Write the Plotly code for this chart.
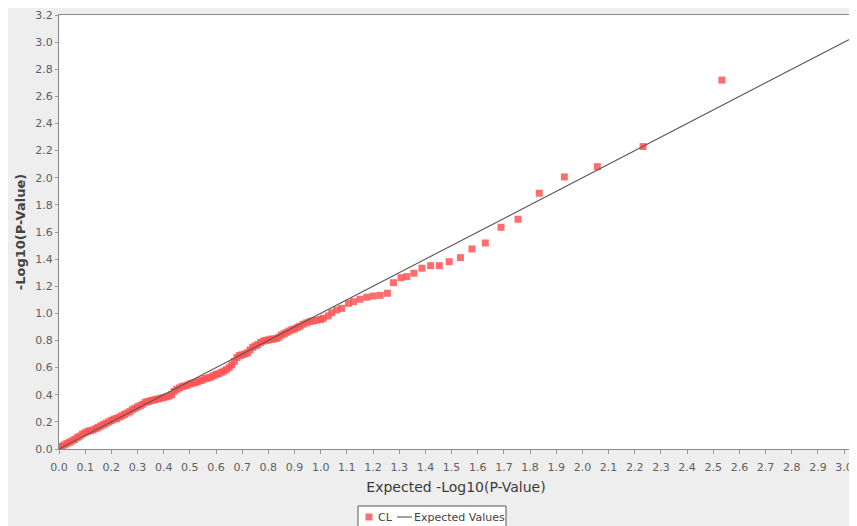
import plotly.graph_objects as go

expected_cl = [
    0.003, 0.01, 0.02, 0.03, 0.04, 0.05, 0.06, 0.07, 0.08, 0.09,
    0.10, 0.11, 0.12, 0.13, 0.14, 0.15, 0.16, 0.17, 0.18, 0.19,
    0.20, 0.21, 0.22, 0.23, 0.24, 0.25, 0.26, 0.27, 0.28, 0.29,
    0.30, 0.31, 0.32, 0.33, 0.34, 0.35, 0.36, 0.37, 0.38, 0.39,
    0.40, 0.41, 0.42, 0.43, 0.44, 0.45, 0.46, 0.47, 0.48, 0.49,
    0.50, 0.51, 0.52, 0.53, 0.54, 0.55, 0.56, 0.57, 0.58, 0.59,
    0.60, 0.61, 0.62, 0.63, 0.64, 0.65, 0.66, 0.67, 0.68, 0.69,
    0.70, 0.71, 0.72, 0.73, 0.74, 0.75, 0.76, 0.77, 0.78, 0.79,
    0.80, 0.81, 0.82, 0.83, 0.84, 0.85, 0.86, 0.87, 0.88, 0.89,
    0.90, 0.91, 0.92, 0.933, 0.946, 0.959, 0.972, 0.985, 1.000, 1.010,
    1.029, 1.042, 1.061, 1.080, 1.106, 1.125, 1.150, 1.176, 1.201, 1.227,
    1.255, 1.278, 1.307, 1.329, 1.356, 1.387, 1.420, 1.453, 1.491, 1.534,
    1.578, 1.629, 1.689, 1.754, 1.835, 1.931, 2.057, 2.232, 2.533,
]
observed_cl = [
    0.015, 0.02, 0.03, 0.04, 0.05, 0.06, 0.07, 0.085, 0.095, 0.11,
    0.12, 0.13, 0.135, 0.14, 0.15, 0.16, 0.17, 0.18, 0.19, 0.20,
    0.21, 0.22, 0.225, 0.235, 0.245, 0.255, 0.265, 0.275, 0.29, 0.30,
    0.31, 0.32, 0.33, 0.345, 0.35, 0.355, 0.36, 0.365, 0.37, 0.375,
    0.38, 0.385, 0.39, 0.40, 0.425, 0.44, 0.45, 0.46, 0.465, 0.47,
    0.48, 0.485, 0.49, 0.495, 0.505, 0.51, 0.52, 0.525, 0.53, 0.54,
    0.55, 0.555, 0.565, 0.575, 0.585, 0.60, 0.62, 0.645, 0.675, 0.69,
    0.695, 0.70, 0.71, 0.73, 0.75, 0.76, 0.77, 0.785, 0.795, 0.80,
    0.805, 0.81, 0.81, 0.815, 0.825, 0.84, 0.85, 0.86, 0.87, 0.88,
    0.885, 0.895, 0.905, 0.92, 0.93, 0.94, 0.945, 0.95, 0.955, 0.964,
    0.981, 1.005, 1.025, 1.037, 1.074, 1.086, 1.104, 1.119, 1.128, 1.133,
    1.148, 1.226, 1.263, 1.271, 1.296, 1.333, 1.352, 1.352, 1.381, 1.411,
    1.475, 1.519, 1.635, 1.694, 1.886, 2.006, 2.082, 2.230, 2.720,
]

# Expected-values reference line (y = x) endpoints
expected_line_x = [0.0, 3.034]
expected_line_y = [0.0, 3.034]

x_ticks = [round(i * 0.1, 1) for i in range(31)]
y_ticks = [round(i * 0.2, 1) for i in range(17)]

series_names = ["CL", "Expected Values"]
POINT_COLOR = "rgba(255,85,85,0.85)"
LINE_COLOR = "#555555"
FONT = "DejaVu Sans"

fig = go.Figure()
fig.add_trace(go.Scatter(
    x=expected_cl, y=observed_cl, mode="markers", name=series_names[0],
    marker=dict(symbol="square", size=7, color=POINT_COLOR, line=dict(width=0)),
    showlegend=False,
))
fig.add_trace(go.Scatter(
    x=expected_line_x, y=expected_line_y, mode="lines", name=series_names[1],
    line=dict(color=LINE_COLOR, width=1.1),
    showlegend=False,
))

# figure is placed by the page 8px from the top-left corner
W, H = 849, 518
L, R, T, B = 51, 845, 7, 441
pw, ph = R - L, B - T

def px_x(p):
    return (p - L) / pw

def px_y(p):
    return (B - p) / ph

# compact JFreeChart-style legend box below the x-axis title
leg_y = 509
shapes = [
    dict(type="rect", xref="paper", yref="paper",
         x0=px_x(350), x1=px_x(498), y0=px_y(530), y1=px_y(498),
         fillcolor="white", line=dict(color="#555555", width=1)),
    dict(type="rect", xref="paper", yref="paper",
         x0=px_x(357.5), x1=px_x(364.5), y0=px_y(leg_y + 3.5), y1=px_y(leg_y - 3.5),
         fillcolor=POINT_COLOR, line=dict(width=0)),
    dict(type="line", xref="paper", yref="paper",
         x0=px_x(389), x1=px_x(404), y0=px_y(leg_y), y1=px_y(leg_y),
         line=dict(color=LINE_COLOR, width=1.1)),
]
annotations = [
    dict(text=series_names[0], xref="paper", yref="paper", x=px_x(368), y=px_y(leg_y),
         xanchor="left", yanchor="middle", showarrow=False,
         font=dict(family=FONT, size=11, color="#444444")),
    dict(text=series_names[1], xref="paper", yref="paper", x=px_x(404), y=px_y(leg_y),
         xanchor="left", yanchor="middle", showarrow=False,
         font=dict(family=FONT, size=11, color="#444444")),
]

axis_common = dict(
    showgrid=False, zeroline=False, showline=True, mirror=True,
    linecolor="#8a8a8a", linewidth=1,
    ticks="outside", tickcolor="#9a9a9a", tickwidth=1,
    tickfont=dict(family=FONT, size=11, color="#606060"),
    tickformat=".1f",
)

fig.update_layout(
    width=W, height=H,
    margin=dict(l=L, r=W - R, t=T, b=H - B, autoexpand=False),
    paper_bgcolor="#eeeeee", plot_bgcolor="white",
    showlegend=False,
    xaxis=dict(
        range=[0, 3.034], tickvals=x_ticks, ticklen=4, ticklabelstandoff=4,
        title=dict(text="Expected -Log10(P-Value)", standoff=8,
                   font=dict(family=FONT, size=14, color="#3a3a3a")),
        **axis_common,
    ),
    yaxis=dict(
        range=[0, 3.2], tickvals=y_ticks, ticklen=3,
        title=dict(text="<b>-Log10(P-Value)</b>", standoff=6,
                   font=dict(family=FONT, size=13, color="#444444")),
        **axis_common,
    ),
    shapes=shapes,
    annotations=annotations,
)

fig.write_html("out.html")
